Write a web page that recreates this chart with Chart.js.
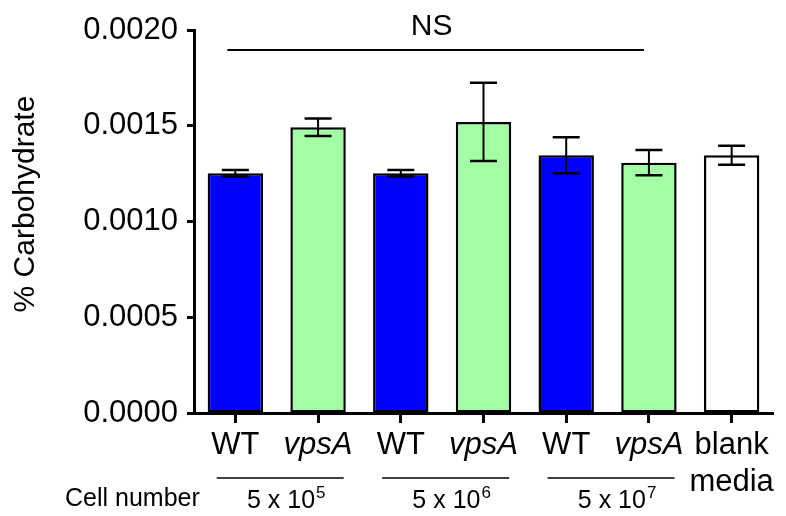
<!DOCTYPE html>
<html lang="en">
<head>
    <meta charset="UTF-8">
    <title>% Carbohydrate</title>
    <script src="https://cdn.jsdelivr.net/npm/chart.js"></script>
    <style>
        html, body { margin: 0; padding: 0; background: #fff; }
        #wrap { width: 786px; height: 516px; }
    </style>
</head>
<body>
    <div id="wrap"><canvas id="carbChart" width="786" height="516"></canvas></div>
    <script>
// data
const categories = ['WT', 'vpsA', 'WT', 'vpsA', 'WT', 'vpsA', ['blank', 'media']];
const means = [0.001252, 0.001492, 0.001252, 0.001520, 0.001346, 0.001307, 0.001346];
const errors = [0.000017, 0.000046, 0.000017, 0.000204, 0.000094, 0.000066, 0.000050];
const barColors = ['#0000ff', '#a3ffa3', '#0000ff', '#a3ffa3', '#0000ff', '#a3ffa3', '#ffffff'];
const yTicks = [0, 0.0005, 0.0010, 0.0015, 0.0020];
const groupLabels = [['5 x 10', '5'], ['5 x 10', '6'], ['5 x 10', '7']];

const FONT = '"Liberation Sans", Arial, sans-serif';

// error bars, NS bracket, group lines and extra text
const extras = {
    id: 'extras',
    afterDatasetsDraw(chart) {
        const ctx = chart.ctx;
        const x = chart.scales.x, y = chart.scales.y;
        ctx.save();
        ctx.strokeStyle = '#000';
        // error bars
        means.forEach((m, i) => {
            const cx = x.getPixelForValue(i);
            const top = y.getPixelForValue(m + errors[i]);
            const bot = y.getPixelForValue(m - errors[i]);
            ctx.lineWidth = 2;
            ctx.beginPath();
            ctx.moveTo(cx, top); ctx.lineTo(cx, bot);
            ctx.stroke();
            ctx.lineWidth = 2.5;
            ctx.beginPath();
            ctx.moveTo(cx - 13.5, top); ctx.lineTo(cx + 13.5, top);
            ctx.moveTo(cx - 13.5, bot); ctx.lineTo(cx + 13.5, bot);
            ctx.stroke();
        });

        // NS line
        const x0 = x.getPixelForValue(0) - 8;
        const x1 = x.getPixelForValue(5) - 5;
        ctx.lineWidth = 2;
        ctx.beginPath();
        ctx.moveTo(x0, 50); ctx.lineTo(x1, 50);
        ctx.stroke();
        ctx.fillStyle = '#000';
        ctx.font = '30px ' + FONT;
        ctx.textAlign = 'center';
        ctx.textBaseline = 'alphabetic';
        ctx.fillText('NS', (x0 + x1) / 2 - 4, 35);

        // group lines and labels
        groupLabels.forEach((g, k) => {
            const mid = (x.getPixelForValue(2 * k) + x.getPixelForValue(2 * k + 1)) / 2;
            ctx.lineWidth = 1.5;
            ctx.beginPath();
            ctx.moveTo(mid - 60, 478); ctx.lineTo(mid + 67, 478);
            ctx.stroke();
            ctx.font = '25px ' + FONT;
            const w1 = ctx.measureText(g[0]).width;
            ctx.font = '17px ' + FONT;
            const w2 = ctx.measureText(g[1]).width;
            const start = mid + 9 - (w1 + w2) / 2;
            ctx.textAlign = 'left';
            ctx.font = '25px ' + FONT;
            ctx.fillText(g[0], start, 508);
            ctx.font = '17px ' + FONT;
            ctx.fillText(g[1], start + w1 + 1, 498);
        });

        ctx.textAlign = 'left';
        ctx.font = '25px ' + FONT;
        ctx.fillText('Cell number', 65, 506);

        // y title
        ctx.translate(34, 204);
        ctx.rotate(-Math.PI / 2);
        ctx.textAlign = 'center';
        ctx.font = '30px ' + FONT;
        ctx.fillText('% Carbohydrate', 0, 0);
        ctx.restore();
    }
};

new Chart(document.getElementById('carbChart'), {
    type: 'bar',
    data: {
        labels: categories,
        datasets: [{
            data: means,
            backgroundColor: barColors,
            borderColor: '#000',
            borderWidth: 2.5,
            borderSkipped: false,
            barPercentage: 0.67,
            categoryPercentage: 1
        }]
    },
    options: {
        responsive: false,
        animation: false,
        layout: { padding: { top: 30, right: 13, left: 0, bottom: 0 } },
        plugins: { legend: { display: false }, tooltip: { enabled: false } },
        scales: {
            x: {
                afterFit: (s) => { s.height = 103; },
                grid: { drawOnChartArea: false, drawTicks: true, tickLength: 10, tickWidth: 3, tickColor: '#000', offset: false },
                border: { color: '#000', width: 3 },
                ticks: {
                    color: '#000',
                    padding: 4,
                    maxRotation: 0,
                    autoSkip: false,
                    font: (c) => ({ family: FONT, size: 31, style: categories[c.index] === 'vpsA' ? 'italic' : 'normal' })
                }
            },
            y: {
                min: 0,
                max: 0.002,
                afterFit: (s) => { s.width = 194; },
                afterBuildTicks: (s) => { s.ticks = yTicks.map(v => ({ value: v })); },
                grid: { drawOnChartArea: false, drawTicks: true, tickLength: 7, tickWidth: 3, tickColor: '#000' },
                border: { color: '#000', width: 3 },
                ticks: {
                    color: '#000',
                    padding: 9,
                    font: { family: FONT, size: 31 },
                    callback: (v) => Number(v).toFixed(4)
                }
            }
        }
    },
    plugins: [extras]
});
    </script>
</body>
</html>
